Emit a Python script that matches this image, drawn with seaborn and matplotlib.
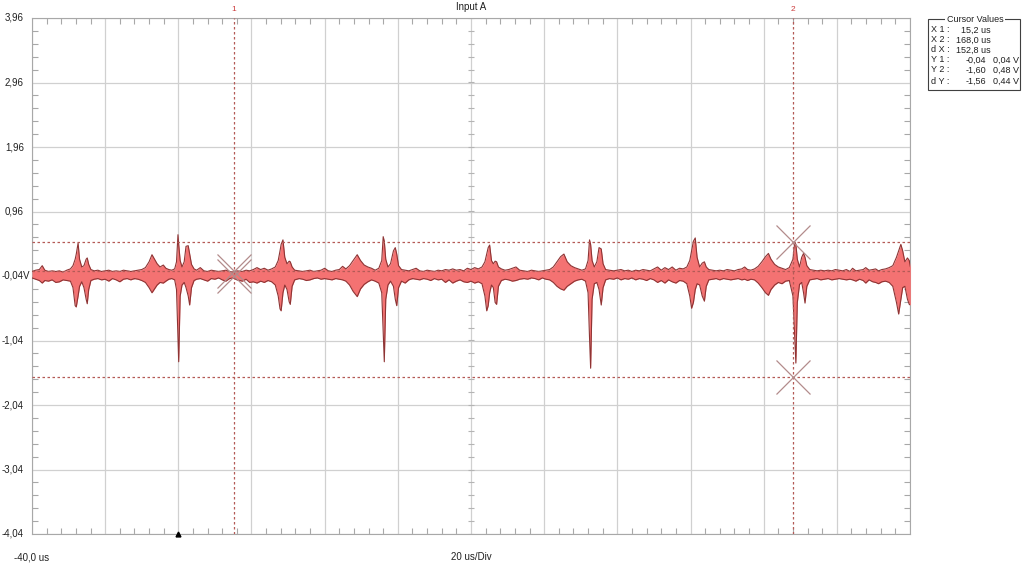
import numpy as np
import pandas as pd
import seaborn as sns
import matplotlib.pyplot as plt
from matplotlib.patches import Rectangle
from matplotlib.ticker import FixedLocator
from matplotlib.transforms import blended_transform_factory

# envelope of the captured trace on Input A: time in us, max/min in V
t_us = [
    -40.0, -39.0, -38.0, -37.2, -36.5, -35.5, -34.5, -33.5, -32.5, -31.5,
    -30.5, -29.5, -28.8, -28.2, -27.9, -27.4, -27.0, -26.4, -25.8, -25.2,
    -24.9, -24.5, -23.9, -23.0, -22.0, -21.0, -20.0, -19.0, -18.0, -17.0,
    -16.0, -15.0, -14.0, -13.0, -12.0, -11.0, -10.0, -9.0, -8.0, -7.2,
    -6.5, -5.8, -5.0, -4.1, -3.4, -2.6, -1.8, -1.0, -0.5, -0.1,
    0.1, 0.5, 1.0, 1.6, 2.1, 2.7, 3.1, 3.6, 4.3, 5.0,
    6.0, 7.0, 8.0, 9.0, 10.0, 11.0, 12.0, 13.0, 14.0, 15.0,
    16.0, 17.5, 18.5, 19.5, 20.5, 21.5, 22.5, 23.5, 24.5, 25.5,
    26.5, 27.3, 27.8, 28.1, 28.6, 29.1, 29.7, 30.3, 30.6, 31.1,
    31.8, 33.0, 34.0, 35.0, 36.0, 37.0, 38.0, 39.0, 40.0, 41.0,
    42.0, 43.0, 44.0, 44.9, 45.8, 46.8, 47.8, 48.9, 49.8, 50.8,
    51.8, 52.8, 53.8, 54.8, 55.6, 56.0, 56.3, 56.7, 57.3, 58.0,
    58.8, 59.3, 59.7, 60.2, 61.0, 62.0, 63.0, 64.0, 65.0, 66.0,
    67.0, 68.0, 69.0, 70.0, 71.0, 72.0, 73.0, 74.0, 75.0, 76.0,
    77.0, 78.0, 79.0, 80.0, 81.0, 82.0, 83.0, 83.8, 84.3, 84.7,
    85.1, 85.6, 86.1, 86.6, 87.0, 87.5, 88.3, 89.3, 90.3, 91.3,
    92.3, 93.3, 94.5, 95.5, 96.5, 97.5, 98.5, 99.5, 100.5, 101.5,
    102.5, 103.5, 104.5, 105.4, 106.3, 107.3, 108.3, 109.3, 110.3, 111.3,
    112.0, 112.4, 112.7, 113.1, 113.7, 114.4, 115.0, 115.6, 116.1, 116.8,
    117.8, 119.0, 120.0, 121.0, 122.0, 123.0, 124.0, 125.0, 126.0, 127.0,
    128.0, 129.0, 130.0, 131.0, 132.0, 133.0, 134.0, 135.0, 136.0, 137.0,
    138.0, 139.0, 139.8, 140.3, 140.8, 141.3, 141.8, 142.5, 143.2, 143.8,
    144.3, 145.0, 146.0, 147.0, 148.0, 149.0, 150.0, 151.0, 152.0, 153.0,
    154.0, 154.8, 155.6, 156.5, 157.5, 158.5, 159.5, 160.5, 161.3, 162.0,
    163.0, 164.0, 165.0, 166.0, 167.0, 168.0, 168.5, 168.8, 169.2, 169.8,
    170.4, 170.9, 171.3, 171.8, 172.6, 173.6, 174.6, 175.6, 176.6, 177.6,
    178.6, 179.6, 180.6, 181.6, 182.6, 183.6, 184.3, 185.2, 186.2, 187.2,
    187.9, 188.8, 189.8, 190.6, 191.4, 192.3, 193.3, 194.3, 195.3, 196.3,
    196.9, 197.5, 198.0, 198.6, 199.3, 199.8, 200.1,
]
v_max = [
    0.03, 0.05, 0.06, 0.12, 0.05, 0.03, 0.04, 0.03, 0.04, 0.02,
    0.05, 0.07, 0.12, 0.22, 0.30, 0.47, 0.22, 0.10, 0.12, 0.22,
    0.24, 0.14, 0.06, 0.04, 0.05, 0.03, 0.04, 0.05, 0.03, 0.04,
    0.03, 0.05, 0.04, 0.03, 0.04, 0.05, 0.06, 0.09, 0.18, 0.29,
    0.22, 0.15, 0.10, 0.13, 0.08, 0.06, 0.05, 0.07, 0.18, 0.60,
    0.45, 0.20, 0.10, 0.18, 0.42, 0.43, 0.30, 0.14, 0.07, 0.05,
    0.09, 0.04, 0.03, 0.05, 0.04, 0.03, 0.04, 0.05, 0.03, 0.02,
    0.04, 0.03, 0.05, 0.04, 0.06, 0.09, 0.06, 0.08, 0.05, 0.07,
    0.10, 0.20, 0.35, 0.45, 0.52, 0.25, 0.15, 0.19, 0.18, 0.10,
    0.05, 0.04, 0.03, 0.04, 0.05, 0.03, 0.04, 0.05, 0.08, 0.04,
    0.03, 0.05, 0.06, 0.11, 0.07, 0.12, 0.20, 0.29, 0.20, 0.13,
    0.10, 0.08, 0.05, 0.08, 0.20, 0.57, 0.50, 0.22, 0.10, 0.15,
    0.35, 0.40, 0.30, 0.12, 0.06, 0.05, 0.04, 0.06, 0.08, 0.04,
    0.03, 0.05, 0.04, 0.03, 0.05, 0.04, 0.06, 0.05, 0.07, 0.05,
    0.06, 0.04, 0.08, 0.06, 0.09, 0.07, 0.10, 0.18, 0.30, 0.40,
    0.44, 0.20, 0.15, 0.19, 0.18, 0.10, 0.07, 0.05, 0.06, 0.08,
    0.10, 0.05, 0.04, 0.03, 0.05, 0.04, 0.03, 0.04, 0.05, 0.06,
    0.10, 0.18, 0.26, 0.30, 0.18, 0.12, 0.09, 0.07, 0.05, 0.07,
    0.20, 0.52, 0.45, 0.20, 0.10, 0.18, 0.40, 0.38, 0.15, 0.06,
    0.05, 0.04, 0.05, 0.06, 0.04, 0.05, 0.03, 0.05, 0.04, 0.06,
    0.05, 0.04, 0.07, 0.10, 0.05, 0.09, 0.06, 0.10, 0.05, 0.08,
    0.07, 0.10, 0.20, 0.35, 0.50, 0.55, 0.25, 0.10, 0.16, 0.18,
    0.10, 0.06, 0.05, 0.04, 0.05, 0.04, 0.06, 0.05, 0.04, 0.06,
    0.07, 0.10, 0.06, 0.05, 0.07, 0.11, 0.18, 0.26, 0.31, 0.22,
    0.14, 0.10, 0.08, 0.06, 0.09, 0.22, 0.49, 0.45, 0.22, 0.10,
    0.25, 0.31, 0.25, 0.12, 0.06, 0.05, 0.04, 0.05, 0.04, 0.05,
    0.04, 0.06, 0.05, 0.04, 0.06, 0.03, 0.08, 0.04, 0.05, 0.06,
    0.09, 0.05, 0.06, 0.07, 0.04, 0.06, 0.07, 0.09, 0.12, 0.25,
    0.35, 0.45, 0.35, 0.18, 0.24, 0.20, 0.10,
]
v_min = [
    -0.07, -0.09, -0.11, -0.15, -0.11, -0.12, -0.10, -0.14, -0.13, -0.10,
    -0.11, -0.12, -0.22, -0.50, -0.52, -0.35, -0.20, -0.13, -0.22, -0.40,
    -0.47, -0.25, -0.11, -0.09, -0.08, -0.10, -0.09, -0.12, -0.08, -0.10,
    -0.13, -0.09, -0.08, -0.10, -0.08, -0.09, -0.11, -0.14, -0.22, -0.30,
    -0.24, -0.18, -0.14, -0.15, -0.12, -0.09, -0.08, -0.10, -0.25, -1.00,
    -1.37, -0.35, -0.18, -0.14, -0.22, -0.35, -0.49, -0.22, -0.11, -0.09,
    -0.08, -0.10, -0.12, -0.08, -0.09, -0.07, -0.10, -0.12, -0.08, -0.07,
    -0.10, -0.12, -0.09, -0.14, -0.13, -0.15, -0.12, -0.14, -0.11, -0.13,
    -0.18, -0.35, -0.55, -0.58, -0.30, -0.18, -0.25, -0.44, -0.48, -0.20,
    -0.10, -0.08, -0.09, -0.11, -0.10, -0.08, -0.07, -0.09, -0.08, -0.09,
    -0.10, -0.08, -0.09, -0.10, -0.12, -0.18, -0.28, -0.36, -0.24, -0.17,
    -0.13, -0.10, -0.12, -0.15, -0.30, -0.90, -1.37, -0.40, -0.18, -0.12,
    -0.20, -0.40, -0.50, -0.22, -0.12, -0.15, -0.10, -0.08, -0.09, -0.10,
    -0.08, -0.09, -0.11, -0.08, -0.10, -0.09, -0.14, -0.10, -0.15, -0.12,
    -0.10, -0.13, -0.14, -0.12, -0.15, -0.13, -0.16, -0.35, -0.58, -0.50,
    -0.30, -0.18, -0.22, -0.45, -0.48, -0.20, -0.11, -0.09, -0.10, -0.12,
    -0.11, -0.09, -0.08, -0.09, -0.07, -0.08, -0.10, -0.07, -0.09, -0.10,
    -0.14, -0.20, -0.24, -0.26, -0.20, -0.16, -0.12, -0.10, -0.09, -0.12,
    -0.30, -1.00, -1.47, -0.40, -0.16, -0.14, -0.25, -0.49, -0.22, -0.10,
    -0.08, -0.09, -0.07, -0.10, -0.08, -0.09, -0.07, -0.10, -0.08, -0.09,
    -0.11, -0.08, -0.10, -0.14, -0.11, -0.15, -0.10, -0.13, -0.15, -0.11,
    -0.12, -0.16, -0.35, -0.54, -0.45, -0.25, -0.16, -0.18, -0.35, -0.43,
    -0.20, -0.10, -0.09, -0.08, -0.10, -0.08, -0.09, -0.10, -0.09, -0.08,
    -0.10, -0.09, -0.11, -0.09, -0.10, -0.15, -0.22, -0.30, -0.34, -0.25,
    -0.18, -0.14, -0.16, -0.12, -0.11, -0.35, -1.00, -1.39, -0.45, -0.17,
    -0.14, -0.30, -0.46, -0.20, -0.10, -0.09, -0.08, -0.10, -0.09, -0.08,
    -0.10, -0.09, -0.08, -0.09, -0.10, -0.09, -0.10, -0.12, -0.09, -0.11,
    -0.15, -0.10, -0.13, -0.14, -0.16, -0.13, -0.12, -0.14, -0.20, -0.45,
    -0.63, -0.40, -0.22, -0.20, -0.40, -0.48, -0.49,
]

y_ticks = [3.96, 2.96, 1.96, 0.96, -0.04, -1.04, -2.04, -3.04, -4.04]
y_labels = ["3,96", "2,96", "1,96", "0,96", "-0,04V", "-1,04", "-2,04", "-3,04", "-4,04"]
x_ticks = [-40, -20, 0, 20, 40, 60, 80, 100, 120, 140, 160, 180, 200]

cursor_x = [15.2, 168.0]
cursor_names = ["1", "2"]
cursor_levels = [0.04, 0.48, -1.60]
cross_x = [15.2, 15.2, 168.0, 168.0]
cross_y = [-0.04, 0.04, 0.48, -1.60]

box_labels = ["X 1 :", "X 2 :", "d X :", "Y 1 :", "Y 2 :", "d Y :"]
box_col1 = ["15,2 us", "168,0 us", "152,8 us", "-0,04", "-1,60", "-1,56"]
box_col2 = ["", "", "", "0,04 V", "0,48 V", "0,44 V"]

sns.set_style("white")
plt.rcParams["font.family"] = ["Liberation Sans", "DejaVu Sans"]

df = pd.DataFrame({"t": t_us, "vmax": v_max, "vmin": v_min})

W, H = 1024, 565
fig = plt.figure(figsize=(W / 100, H / 100), dpi=100)
ax = fig.add_axes([32 / W, 31 / H, 878 / W, 516 / H])

grid_col = "#d0d0d0"
trace_edge = "#8e3434"
cur_col = "#b45a56"
txt_col = "#202020"

ax.fill_between(df["t"], df["vmin"], df["vmax"], color="#f47272", lw=0, zorder=3)
sns.lineplot(data=df, x="t", y="vmax", ax=ax, color=trace_edge, lw=0.8, zorder=4)
sns.lineplot(data=df, x="t", y="vmin", ax=ax, color=trace_edge, lw=0.8, zorder=4)

ax.set_xlim(-40, 200)
ax.set_ylim(-4.04, 3.96)
ax.set_xlabel("")
ax.set_ylabel("")
ax.set_xticks(x_ticks)
ax.set_xticklabels([])
ax.set_yticks(y_ticks)
ax.set_yticklabels([])
ax.grid(True, which="major", color=grid_col, lw=0.9, zorder=1)
ax.set_axisbelow(True)

# volt labels left of the graticule; the centre one carries the unit
ylab_tr = blended_transform_factory(fig.transFigure, ax.transData)
for yv, lab in zip(y_ticks, y_labels):
    right_px = 30 if lab.endswith("V") else 24
    fig.text(right_px / W, yv, lab, transform=ylab_tr, ha="right", va="center",
             fontsize=7, color=txt_col)

minor_x = np.arange(-40, 200.1, 4)
minor_y = np.arange(-4.04, 3.97, 0.2)
ax.xaxis.set_minor_locator(FixedLocator(minor_x))
ax.yaxis.set_minor_locator(FixedLocator(minor_y))
ax.tick_params(which="minor", direction="in", length=4, width=0.8, color="#a8a8a8",
               top=True, right=True, bottom=True, left=True)
ax.tick_params(which="major", length=0)
for s in ax.spines.values():
    s.set_color("#a8a8a8")
    s.set_linewidth(0.8)

# small ticks along the centre cross of the graticule
ax.plot(minor_x, [-0.04] * len(minor_x), ls="none", marker="|", ms=5, mew=0.8,
        color="#b4b4b4", zorder=2)
ax.plot([80] * len(minor_y), minor_y, ls="none", marker="_", ms=5, mew=0.8,
        color="#b4b4b4", zorder=2)

# cursors
ax.axhline(-0.04, color=cur_col, ls=(0, (2, 2)), lw=0.9, zorder=2)
for lvl in cursor_levels:
    ax.axhline(lvl, color=cur_col, ls=(0, (2, 2)), lw=0.9, zorder=5)
for cx, name in zip(cursor_x, cursor_names):
    ax.axvline(cx, color=cur_col, ls=(0, (2, 2)), lw=0.9, zorder=5)
    ax.annotate(name, xy=(cx, 1), xycoords=("data", "axes fraction"),
                xytext=(0, 6), textcoords="offset points", ha="center", va="center",
                fontsize=6, color="#cc3b3b")
ax.plot(cross_x, cross_y, ls="none", marker="x", ms=25, mew=0.9, color="#b38c8c", zorder=6)

# trigger marker
ax.plot([0], [-4.04], ls="none", marker="^", ms=3.5, color="black", clip_on=False, zorder=7)

# texts around the graticule
fig.text(471 / W, 1 - 7 / H, "Input A", ha="center", va="center", fontsize=7, color=txt_col)
fig.text(14 / W, 1 - 557 / H, "-40,0 us", ha="left", va="center", fontsize=7, color=txt_col)
fig.text(471 / W, 1 - 557 / H, "20 us/Div", ha="center", va="center", fontsize=7, color=txt_col)

# cursor values box
bx0, bx1, by0, by1 = 928, 1020, 19, 90
fig.patches.append(Rectangle((bx0 / W, 1 - by1 / H), (bx1 - bx0) / W, (by1 - by0) / H,
                             transform=fig.transFigure, fill=False, ec="#404040", lw=0.8))
fig.text(975 / W, 1 - by0 / H, "Cursor Values", ha="center", va="center", fontsize=6.5,
         color=txt_col, bbox=dict(fc="white", ec="none", pad=1))
rows_y = [30, 40, 50, 60, 70, 81]
for ry, lab, c1, c2 in zip(rows_y, box_labels, box_col1, box_col2):
    fig.text(931 / W, 1 - ry / H, lab, ha="left", va="center", fontsize=6.5, color=txt_col)
    right1 = 991 if c1.endswith("us") else 986
    fig.text(right1 / W, 1 - ry / H, c1, ha="right", va="center", fontsize=6.5, color=txt_col)
    if c2:
        fig.text(1019 / W, 1 - ry / H, c2, ha="right", va="center", fontsize=6.5, color=txt_col)

fig.savefig("out.png", dpi=100)
